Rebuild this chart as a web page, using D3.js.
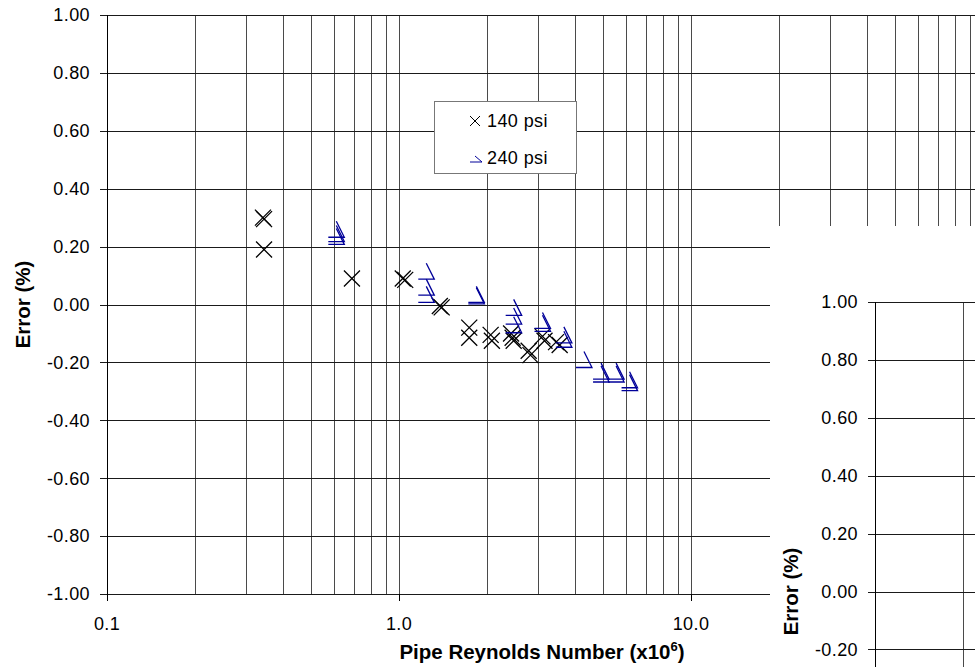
<!DOCTYPE html>
<html lang="en">
<head>
	<meta charset="utf-8">
	<title>Error vs Pipe Reynolds Number</title>
	<script src="https://d3js.org/d3.v7.min.js"></script>
	<style>
	body { margin: 0; background: #fff; }
	text { font-family: "Liberation Sans", Arial, sans-serif; fill: #000; }
	.tick-label { font-size: 18px; letter-spacing: 0.4px; }
	.title { font-size: 20.5px; font-weight: bold; }
	.grid-v { stroke: #4a4a4a; stroke-width: 1; }
	.grid-h { stroke: #1a1a1a; stroke-width: 1; }
	</style>
</head>
<body>
	<script>
		// pipe Reynolds number (x10^6) and error (%) for each series
		var re140  = [0.342, 0.345, 0.345, 0.69, 1.03, 1.05, 1.38, 1.40, 1.74, 1.74, 2.06, 2.08, 2.42, 2.45, 2.47, 2.78, 2.82, 3.10, 3.15, 3.45, 3.55];
		var err140 = [0.30, 0.295, 0.19, 0.09, 0.09, 0.085, -0.005, -0.01, -0.08, -0.115, -0.105, -0.125, -0.10, -0.115, -0.125, -0.16, -0.175, -0.11, -0.125, -0.13, -0.14];

		var re240  = [0.61, 0.61, 0.61, 1.24, 1.24, 1.24, 1.84, 1.84, 2.47, 2.47, 2.47, 3.10, 3.10, 3.67, 3.67, 4.30, 4.92, 4.92, 5.54, 5.54, 6.16, 6.16];
		var err240 = [0.26, 0.245, 0.235, 0.115, 0.06, 0.035, 0.035, 0.03, -0.01, -0.04, -0.07, -0.055, -0.065, -0.105, -0.12, -0.19, -0.23, -0.24, -0.23, -0.24, -0.26, -0.27];

		var seriesNames = ["140 psi", "240 psi"];
		var yTicks = [-1, -0.8, -0.6, -0.4, -0.2, 0, 0.2, 0.4, 0.6, 0.8, 1];
		var xMajor = [0.1, 1, 10];

		var w = 975;
		var h = 667;

		var svg = d3.select("body")
					.append("svg")
					.attr("width", w)
					.attr("height", h);

		var x = d3.scaleLog()
				  .domain([0.1, 100])
				  .range([107, 983]);

		var y = d3.scaleLinear()
				  .domain([-1, 1])
				  .range([594, 15]);

		// plain hyphen minus like the original
		var fmt2 = function(d) { return d3.format(".2f")(d).replace("\u2212", "-"); };
		var fmt1 = function(d) { return d3.format(".1f")(d); };

		// minor grid values 0.1..100
		var xGrid = [];
		[0.1, 1, 10].forEach(function(d) {
			for (var i = 1; i <= 9; i++) xGrid.push(d * i);
		});
		xGrid.push(100);

		var crossPath = "M-8,-8L8,8M-8,8L8,-8";
		var triPath = "M0,-8L8,8L-8,8";

		// dx, dy: where the chart sits; visible: screen box, texts outside it are skipped
		function drawChart(g, xEnd, dx, dy, visible) {
			function shows(px, py) {
				return px + dx >= visible[0] && px + dx <= visible[2] && py + dy >= visible[1] && py + dy <= visible[3];
			}

			// vertical grid
			g.append("g")
				.selectAll("line")
				.data(xGrid.slice(1))
				.enter().append("line")
				  .attr("class", "grid-v")
				  .attr("x1", function(d) { return Math.round(x(d)) + 0.5; })
				  .attr("x2", function(d) { return Math.round(x(d)) + 0.5; })
				  .attr("y1", y(1))
				  .attr("y2", y(-1));

			// horizontal grid
			g.append("g")
				.selectAll("line")
				.data(yTicks)
				.enter().append("line")
				  .attr("class", "grid-h")
				  .attr("x1", x(0.1) - 7)
				  .attr("x2", function(d) { return d == -1 ? xEnd : 983; })
				  .attr("y1", function(d) { return Math.round(y(d)) + 0.5; })
				  .attr("y2", function(d) { return Math.round(y(d)) + 0.5; });

			// axes
			g.append("line")
				.attr("x1", 107.5).attr("x2", 107.5)
				.attr("y1", y(1)).attr("y2", y(-1) + 1)
				.attr("stroke", "#000");

			g.append("g")
				.selectAll("line")
				.data(xMajor)
				.enter().append("line")
				  .attr("x1", function(d) { return Math.round(x(d)) + 0.5; })
				  .attr("x2", function(d) { return Math.round(x(d)) + 0.5; })
				  .attr("y1", y(-1))
				  .attr("y2", y(-1) + 7)
				  .attr("stroke", "#000");

			g.append("g")
				.selectAll("text")
				.data(yTicks.filter(function(d) { return shows(70, y(d) + 8); }))
				.enter().append("text")
				  .attr("class", "tick-label")
				  .attr("x", 90)
				  .attr("y", function(d) { return y(d); })
				  .attr("dy", "0.35em")
				  .attr("text-anchor", "end")
				  .text(fmt2);

			g.append("g")
				.selectAll("text")
				.data(xMajor.filter(function(d) { return shows(x(d), 632); }))
				.enter().append("text")
				  .attr("class", "tick-label")
				  .attr("x", function(d) { return x(d); })
				  .attr("y", 630)
				  .attr("text-anchor", "middle")
				  .text(fmt1);

			// axis titles
			if (shows(25, y(0) + 50)) {
				g.append("text")
					.attr("class", "title")
					.attr("transform", "translate(30," + y(0) + ") rotate(-90)")
					.attr("text-anchor", "middle")
					.text("Error (%)");
			}

			if (shows(542, 664)) {
				var xt = g.append("text")
					.attr("class", "title")
					.attr("x", 542)
					.attr("y", 659)
					.attr("text-anchor", "middle");
				xt.append("tspan").text("Pipe Reynolds Number (x10");
				xt.append("tspan").attr("font-size", "13px").attr("dy", "-8").text("6");
				xt.append("tspan").attr("dy", "8").text(")");
			}

			// series
			g.append("g")
				.selectAll("path")
				.data(d3.range(re140.length))
				.enter().append("path")
				  .attr("d", crossPath)
				  .attr("transform", function(i) { return "translate(" + x(re140[i]) + "," + y(err140[i]) + ")"; })
				  .attr("fill", "none")
				  .attr("stroke", "#000")
				  .attr("stroke-width", 1.3);

			g.append("g")
				.selectAll("path")
				.data(d3.range(re240.length))
				.enter().append("path")
				  .attr("d", triPath)
				  .attr("transform", function(i) { return "translate(" + x(re240[i]) + "," + y(err240[i]) + ")"; })
				  .attr("fill", "none")
				  .attr("stroke", "#000099")
				  .attr("stroke-width", 1.3);

			// legend
			if (shows(434, 101)) {
				var lg = g.append("g");
				lg.append("rect")
					.attr("x", 434.5).attr("y", 101.5)
					.attr("width", 142).attr("height", 72)
					.attr("fill", "#fff")
					.attr("stroke", "#777");

				lg.append("path")
					.attr("d", "M-5,-5L5,5M-5,5L5,-5")
					.attr("transform", "translate(475,121)")
					.attr("fill", "none")
					.attr("stroke", "#000");

				lg.append("path")
					.attr("d", "M-1,-5L6,1L-6,1")
					.attr("transform", "translate(476,161)")
					.attr("fill", "none")
					.attr("stroke", "#000099");

				lg.selectAll("text")
					.data(seriesNames)
					.enter().append("text")
					  .attr("class", "tick-label")
					  .attr("x", 487)
					  .attr("y", function(d, i) { return 127 + i * 37; })
					  .text(function(d) { return d; });
			}
		}

		// main chart
		drawChart(svg.append("g"), 770, 0, 0, [0, 0, w, h]);

		// second copy of the chart sitting in the lower right corner
		svg.append("clipPath")
			.attr("id", "panel")
		  .append("rect")
			.attr("x", 770).attr("y", 226)
			.attr("width", w - 770).attr("height", h - 226);

		var panel = svg.append("g")
			.attr("clip-path", "url(#panel)");

		panel.append("rect")
			.attr("x", 770).attr("y", 226)
			.attr("width", w - 770).attr("height", h - 226)
			.attr("fill", "#fff");

		drawChart(panel.append("g").attr("transform", "translate(768,287)"), 983, 768, 287, [770, 226, w, h]);
	</script>
</body>
</html>
